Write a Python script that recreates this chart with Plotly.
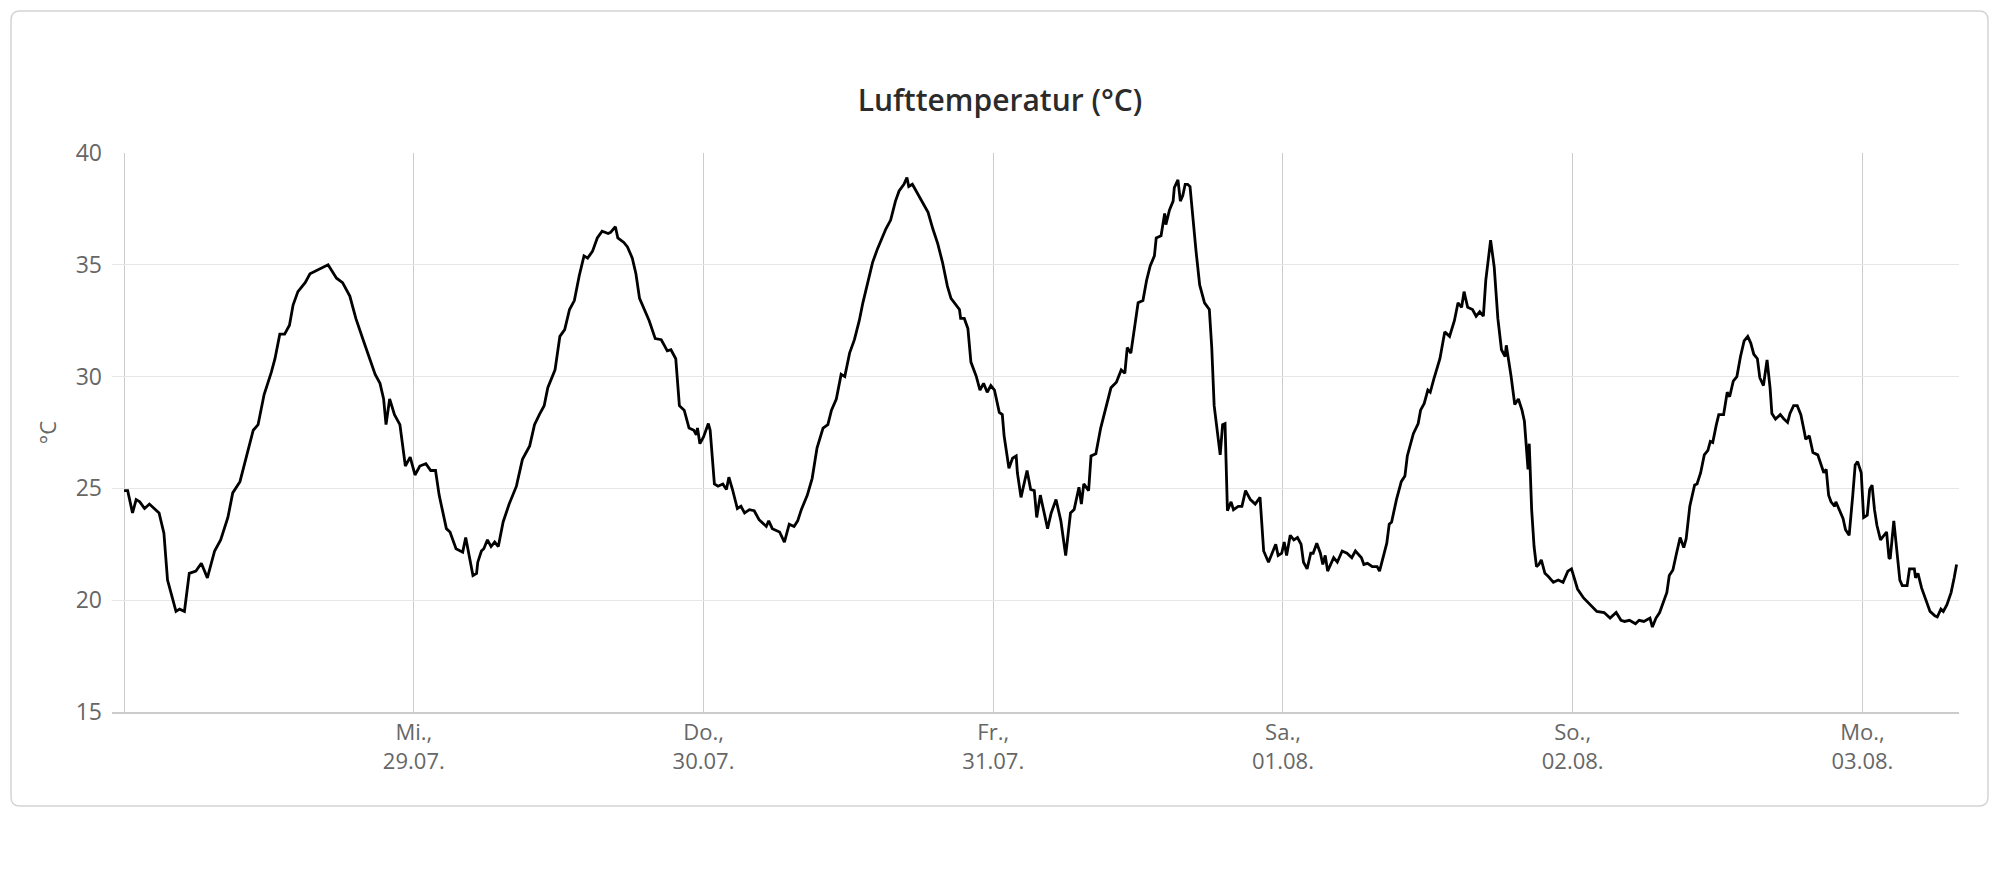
# ── 1. Imports ────────────────────────────────
import pandas as pd
import plotly.graph_objects as go

# ── 2. DATA ───────────────────────────────────
# air temperature, hours after 28.07.2020 00:00
START = pd.Timestamp("2020-07-28 00:00")

hours = [
    0.0, 0.3, 0.7, 1.0, 1.3, 1.7, 2.1, 2.5, 2.9, 3.3, 3.6, 4.0, 4.3, 4.6, 5.0,
    5.4, 5.95, 6.4, 6.9, 7.5, 8.0, 8.6, 9.0, 9.6, 10.1, 10.7, 11.1, 11.6, 12.2,
    12.5, 12.9, 13.3, 13.7, 14.0, 14.4, 15.0, 15.4, 16.1, 16.9, 17.6, 18.1,
    18.7, 19.2, 19.8, 20.4, 20.8, 21.2, 21.5, 21.7, 22.0, 22.4, 22.85, 23.3,
    23.7, 24.1,
    24.5, 25.0, 25.4, 25.8, 26.1, 26.7, 27.0, 27.5, 28.05, 28.3, 28.6, 28.9,
    29.2, 29.3, 29.6, 29.8, 30.1, 30.4, 30.7, 31.0, 31.4, 31.9, 32.5, 33.0,
    33.6, 34.0, 34.4, 34.8, 35.1, 35.7, 36.1, 36.5, 36.9, 37.3, 37.7, 38.1,
    38.4, 38.8, 39.2, 39.6, 40.1, 40.3, 40.7, 40.9, 41.4, 41.7, 42.1, 42.4,
    42.7, 43.1, 43.5, 44.0, 44.5, 45.0, 45.3, 45.7, 46.0, 46.4, 46.8, 47.2,
    47.4, 47.5, 47.7, 48.0, 48.4, 48.55, 48.9,
    49.2, 49.6, 49.9, 50.1, 50.4, 50.8, 51.1, 51.4, 51.8, 52.2, 52.6, 53.2,
    53.4, 53.7, 54.3, 54.7, 55.1, 55.5, 55.8, 56.1, 56.6, 57.0, 57.4, 57.9,
    58.3, 58.6, 59.0, 59.4, 59.7, 60.1, 60.5, 60.9, 61.2, 61.6, 62.0, 62.4,
    62.8, 63.1, 63.5, 63.9, 64.2, 64.6, 64.85, 65.0, 65.3, 65.7, 66.1, 66.6,
    67.0, 67.4, 67.8, 68.2, 68.5, 68.8, 69.2, 69.3, 69.6, 69.9, 70.15, 70.6,
    70.9, 71.2, 71.5, 71.8, 72.1,
    72.5, 72.75, 72.9, 73.3, 73.6, 73.9, 74.0, 74.3, 74.8, 75.1, 75.4, 75.6,
    75.9, 76.2, 76.5, 76.8, 77.2, 77.6, 78.0, 78.4, 78.7, 79.1, 79.3, 79.5,
    79.9, 80.1, 80.5, 80.9, 81.3, 81.75, 82.2, 82.6, 82.9, 83.1, 83.4, 83.7,
    84.0, 84.4, 84.7, 85.0, 85.35, 85.5, 85.9, 86.2, 86.3, 86.6, 86.9, 87.0,
    87.3, 87.5, 87.7, 87.9, 88.1, 88.3, 88.5, 88.8, 89.1, 89.5, 89.9, 90.1,
    90.3, 90.6, 90.8, 91.0, 91.2, 91.4, 91.7, 91.9, 92.3, 92.6, 92.9, 93.3,
    93.7, 94.1, 94.4, 94.8, 95.1, 95.4, 95.6, 95.9,
    96.1, 96.3, 96.6, 96.9, 97.2, 97.5, 97.7, 98.0, 98.3, 98.5, 98.8, 99.1,
    99.3, 99.5, 99.7, 100.0, 100.2, 100.5, 100.9, 101.3, 101.7, 102.0, 102.5,
    102.7, 103.0, 103.4, 103.8, 104.0, 104.3, 104.6, 104.8, 105.0, 105.4,
    105.8, 106.1, 106.3, 106.8, 107.2, 107.4, 107.7, 108.0, 108.2, 108.5,
    109.0, 109.4, 109.8, 110.2, 110.5, 110.8, 111.0, 111.3, 111.7, 112.0,
    112.3, 112.6, 112.8, 113.2, 113.5, 113.8, 114.1, 114.4, 114.5, 114.9,
    115.2, 115.5, 115.8, 116.0, 116.3, 116.4, 116.6, 116.8, 117.0, 117.2,
    117.4, 117.7, 118.0, 118.4, 118.8, 119.2, 119.6, 119.9,
    120.1, 120.4, 120.9, 121.5, 122.0, 122.6, 122.9, 123.1, 123.6, 124.0,
    124.3, 124.7, 125.2, 125.5, 125.9, 126.4, 126.6, 126.9, 127.2, 127.4,
    127.8, 128.0, 128.3, 128.6, 128.9, 129.2, 129.4, 129.7, 130.1, 130.3,
    130.6, 130.9, 131.2, 131.4, 131.6, 131.9, 132.1, 132.5, 132.8, 133.0,
    133.3, 133.6, 133.9, 134.2, 134.5, 134.75, 135.0, 135.3, 135.5, 135.8,
    136.1, 136.35, 136.5, 136.8, 137.2, 137.5, 137.8, 138.0, 138.3, 138.6,
    138.9, 139.2, 139.3, 139.6, 139.9, 140.3, 140.55, 140.8, 141.0, 141.2,
    141.4, 141.7, 141.8, 142.1, 142.4, 142.6, 142.9, 143.2, 143.4, 143.6,
    143.9, 144.1,
    144.4, 144.6, 144.8, 145.0, 145.2, 145.5, 145.8, 146.0, 146.2, 146.3,
    146.6, 146.8, 147.1, 147.3, 147.7, 147.9, 148.3, 148.4, 148.6, 148.9,
    149.3, 149.6, 150.0, 150.2, 150.5, 150.7, 151.0, 151.35, 151.6, 151.8,
]

temp_c = [
    24.9, 24.9, 23.9, 24.5, 24.4, 24.1, 24.3, 24.1, 23.9, 23.0, 20.9, 20.1,
    19.5, 19.6, 19.5, 21.2, 21.3, 21.65, 21.0, 22.2, 22.7, 23.7, 24.8, 25.3,
    26.3, 27.6, 27.85, 29.2, 30.2, 30.8, 31.9, 31.9, 32.3, 33.2, 33.8, 34.2,
    34.6, 34.8, 35.0, 34.4, 34.2, 33.6, 32.6, 31.65, 30.7, 30.1, 29.7, 29.0,
    27.85, 29.0, 28.3, 27.85, 26.0, 26.4, 25.6,
    26.0, 26.1, 25.8, 25.8, 24.7, 23.2, 23.05, 22.3, 22.15, 22.8, 21.9, 21.1,
    21.2, 21.7, 22.2, 22.3, 22.7, 22.4, 22.6, 22.4, 23.5, 24.3, 25.1, 26.3,
    26.9, 27.85, 28.3, 28.7, 29.5, 30.3, 31.8, 32.1, 33.0, 33.4, 34.5, 35.4,
    35.3, 35.6, 36.2, 36.5, 36.4, 36.45, 36.7, 36.2, 36.0, 35.8, 35.3, 34.6,
    33.5, 33.0, 32.5, 31.7, 31.65, 31.15, 31.2, 30.8, 28.7, 28.5, 27.7, 27.6,
    27.4, 27.7, 27.0, 27.3, 27.9, 27.6, 25.2,
    25.1, 25.2, 24.95, 25.5, 24.95, 24.1, 24.2, 23.9, 24.05, 24.0, 23.6, 23.3,
    23.55, 23.2, 23.05, 22.6, 23.4, 23.3, 23.55, 24.05, 24.7, 25.45, 26.8,
    27.7, 27.85, 28.5, 29.0, 30.1, 30.0, 31.05, 31.65, 32.5, 33.3, 34.2, 35.1,
    35.7, 36.2, 36.6, 37.0, 37.85, 38.3, 38.6, 38.9, 38.5, 38.6, 38.2, 37.85,
    37.35, 36.6, 35.95, 35.1, 34.05, 33.5, 33.3, 33.0, 32.6, 32.6, 32.15,
    30.65, 30.0, 29.4, 29.7, 29.3, 29.6, 29.4,
    28.4, 28.3, 27.35, 25.9, 26.35, 26.45, 25.7, 24.6, 25.8, 24.95, 24.9,
    23.7, 24.7, 23.9, 23.2, 23.9, 24.5, 23.55, 22.0, 23.9, 24.05, 25.05, 24.3,
    25.2, 24.9, 26.45, 26.55, 27.7, 28.5, 29.5, 29.75, 30.3, 30.15, 31.3,
    31.05, 32.15, 33.3, 33.4, 34.3, 34.95, 35.4, 36.2, 36.3, 37.3, 36.8,
    37.45, 37.85, 38.45, 38.8, 37.85, 38.1, 38.6, 38.6, 38.5, 37.3, 35.6,
    34.1, 33.3, 33.0, 31.3, 28.7, 27.5, 26.5, 27.85, 27.9, 24.0, 24.4, 24.05,
    24.2, 24.2, 24.9, 24.5, 24.3, 24.6, 22.2, 21.7, 22.1, 22.5, 22.0, 22.1,
    22.6, 22.0, 22.9, 22.7, 22.8, 22.5, 21.7, 21.4, 22.1, 22.1, 22.55, 22.1,
    21.6, 22.0, 21.3, 21.7, 21.9, 21.7, 22.2, 22.1, 21.9, 22.2, 21.9, 21.6,
    21.65, 21.5, 21.5, 21.3, 21.9, 22.55, 23.4, 23.5, 24.5, 25.3, 25.55,
    26.45, 27.45, 27.9, 28.5, 28.8, 29.4, 29.3, 29.9, 30.8, 32.0, 31.8, 32.5,
    33.3, 33.1, 33.8, 33.1, 33.0, 32.7, 32.9, 32.7, 34.3, 36.1, 34.9, 32.6,
    31.2, 30.9, 31.4, 30.0, 28.75, 29.0, 28.5, 28.0, 25.85, 27.0, 24.05, 22.4,
    21.5, 21.6, 21.8, 21.2, 21.05, 20.8, 20.9, 20.8, 21.3, 21.4,
    21.0, 20.5, 20.1, 19.75, 19.5, 19.45, 19.3, 19.2, 19.45, 19.1, 19.05,
    19.1, 18.95, 19.1, 19.05, 19.2, 18.8, 19.2, 19.45, 19.75, 20.35, 21.1,
    21.35, 22.1, 22.8, 22.35, 22.75, 24.2, 25.15, 25.2, 25.7, 26.5, 26.7,
    27.1, 27.05, 27.85, 28.3, 28.3, 29.3, 29.1, 29.8, 30.0, 30.9, 31.6, 31.8,
    31.5, 31.0, 30.8, 29.95, 29.6, 30.75, 29.5, 28.35, 28.1, 28.3, 28.1, 27.95,
    28.35, 28.7, 28.7, 28.3, 27.5, 27.2, 27.35, 26.6, 26.5, 26.1, 25.7, 25.85,
    24.7, 24.4, 24.2, 24.4, 24.0, 23.65, 23.15, 22.9, 24.7, 26.05, 26.2, 25.7,
    23.7,
    23.8, 24.95, 25.15, 24.05, 23.35, 22.7, 22.9, 23.05, 21.9, 21.85, 23.55,
    22.4, 20.9, 20.65, 20.65, 21.4, 21.4, 21.0, 21.2, 20.55, 20.0, 19.5, 19.3,
    19.25, 19.6, 19.5, 19.8, 20.35, 21.0, 21.6,
]

# day ticks (the first one has no label, it sits on the left edge)
tick_days = ["2020-07-28", "2020-07-29", "2020-07-30", "2020-07-31",
             "2020-08-01", "2020-08-02", "2020-08-03"]
tick_labels = ["", "Mi.,<br>29.07.", "Do.,<br>30.07.", "Fr.,<br>31.07.",
               "Sa.,<br>01.08.", "So.,<br>02.08.", "Mo.,<br>03.08."]

y_ticks = [15, 20, 25, 30, 35, 40]

# ── 3. LAYOUT CONSTANTS ───────────────────────
# the page body has an 8px margin, so the figure is a bit smaller than
# the window and everything is placed 8px further up/left
PAGE_OFF = 8
W, H = 2000 - 2 * PAGE_OFF, 870 - 2 * PAGE_OFF
M_L, M_R, M_T, M_B = 104, 33, 145, 150
FONT = "Open Sans"
GREY = "#666666"


def to_paper(px, py):
    """figure pixel position -> paper coordinates of the plot area"""
    pw = W - M_L - M_R
    ph = H - M_T - M_B
    return (px - M_L) / pw, (H - M_B - py) / ph


def rounded_rect(x0, y0, x1, y1, r):
    a = to_paper(x0 + r, y0)
    b = to_paper(x1 - r, y0)
    c = to_paper(x1, y0)
    d = to_paper(x1, y0 + r)
    e = to_paper(x1, y1 - r)
    f = to_paper(x1, y1)
    g = to_paper(x1 - r, y1)
    h = to_paper(x0 + r, y1)
    i = to_paper(x0, y1)
    j = to_paper(x0, y1 - r)
    k = to_paper(x0, y0 + r)
    l = to_paper(x0, y0)
    pts = lambda p: f"{p[0]:.5f},{p[1]:.5f}"
    return (f"M {pts(a)} L {pts(b)} Q {pts(c)} {pts(d)} L {pts(e)} "
            f"Q {pts(f)} {pts(g)} L {pts(h)} Q {pts(i)} {pts(j)} "
            f"L {pts(k)} Q {pts(l)} {pts(a)} Z")


# ── 4. FIGURE ─────────────────────────────────
times = [START + pd.Timedelta(hours=h) for h in hours]

fig = go.Figure()
fig.add_trace(go.Scatter(
    x=times, y=temp_c, mode="lines",
    line=dict(color="#000000", width=2.8),
    hoverinfo="skip", showlegend=False,
))

fig.update_layout(
    width=W, height=H,
    margin=dict(l=M_L, r=M_R, t=M_T, b=M_B),
    paper_bgcolor="white", plot_bgcolor="white",
    font=dict(family=FONT, size=22, color=GREY),
    title=dict(
        text="Lufttemperatur (°C)",
        x=(1000 - PAGE_OFF) / W, xref="container", xanchor="center",
        y=1 - (100 - PAGE_OFF) / H, yref="container", yanchor="middle",
        font=dict(family=FONT, size=30, color="#2b2b2b", weight=600),
    ),
    shapes=[dict(
        type="path", xref="paper", yref="paper", layer="below",
        path=rounded_rect(3, 3, 1980, 798, 9),
        line=dict(color="#d4d4d4", width=1.5),
    )],
)

fig.update_xaxes(
    type="date",
    range=[START - pd.Timedelta(hours=1), START + pd.Timedelta(hours=152)],
    tickvals=tick_days, ticktext=tick_labels,
    showgrid=True, gridcolor="#cccccc", gridwidth=1,
    showline=True, linecolor="#cccccc", linewidth=1.5,
    ticks="", tickfont=dict(size=22, color=GREY),
    zeroline=False,
)
fig.update_yaxes(
    range=[15, 40], tickvals=y_ticks,
    showgrid=True, gridcolor="#e6e6e6", gridwidth=1,
    showline=False, zeroline=False,
    ticks="", ticklabelstandoff=9,
    tickfont=dict(size=23, color=GREY),
    title=dict(text="°C", standoff=12, font=dict(size=22, color=GREY)),
)

fig.write_html("out.html")
